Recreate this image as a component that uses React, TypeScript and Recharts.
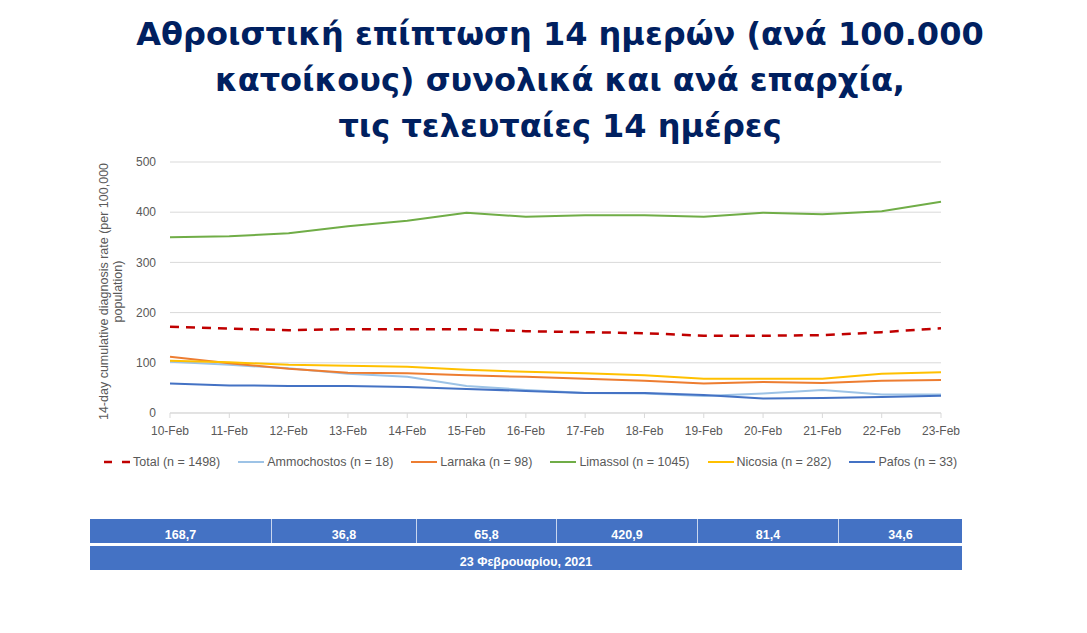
import { LineChart, Line, XAxis, YAxis, CartesianGrid } from 'recharts';

// Ημερομηνίες και τιμές (ανά 100.000 κατοίκους)
const days = ['10-Feb', '11-Feb', '12-Feb', '13-Feb', '14-Feb', '15-Feb', '16-Feb', '17-Feb', '18-Feb', '19-Feb', '20-Feb', '21-Feb', '22-Feb', '23-Feb'];
const total = [172, 168, 165, 167, 167, 167, 163, 161, 159, 154, 154, 155, 161, 168.7];
const ammochostos = [102, 96, 89, 78, 72, 54, 46, 40, 39, 34, 39, 46, 37, 36.8];
const larnaka = [112, 99, 88, 80, 79, 75, 72, 68, 64, 59, 62, 60, 64, 65.8];
const limassol = [350, 352, 358, 372, 383, 399, 391, 394, 394, 391, 399, 396, 402, 420.9];
const nicosia = [104, 101, 96, 94, 92, 86, 82, 79, 75, 68, 68, 68, 78, 81.4];
const pafos = [59, 55, 54, 54, 52, 48, 44, 40, 40, 36, 29, 30, 32, 34.6];
const yTicks = [0, 100, 200, 300, 400, 500];

const series = [
  { key: 'total', name: 'Total (n = 1498)', color: '#C00000', dash: true },
  { key: 'ammochostos', name: 'Ammochostos (n = 18)', color: '#9DC3E6', dash: false },
  { key: 'larnaka', name: 'Larnaka (n = 98)', color: '#ED7D31', dash: false },
  { key: 'limassol', name: 'Limassol (n = 1045)', color: '#70AD47', dash: false },
  { key: 'nicosia', name: 'Nicosia (n = 282)', color: '#FFC000', dash: false },
  { key: 'pafos', name: 'Pafos (n = 33)', color: '#4472C4', dash: false },
];

const tableValues = ['168,7', '36,8', '65,8', '420,9', '81,4', '34,6'];
const tableWidths = [182, 145, 140, 141, 141, 123];
const dateLabel = '23 Φεβρουαρίου, 2021';

const data = days.map((day, i) => ({
  day,
  total: total[i],
  ammochostos: ammochostos[i],
  larnaka: larnaka[i],
  limassol: limassol[i],
  nicosia: nicosia[i],
  pafos: pafos[i],
}));

const YLabel = (props: any) => {
  const { viewBox } = props;
  const cx = viewBox.x - 2;
  const cy = viewBox.y + viewBox.height / 2 + 4;
  return (
    <text x={cx} y={cy} transform={`rotate(-90 ${cx} ${cy})`} textAnchor="middle" fill="#595959" fontSize={12.5}>
      <tspan x={cx} dy={0}>14-day cumulative diagnosis rate (per 100,000</tspan>
      <tspan x={cx} dy={14}>population)</tspan>
    </text>
  );
};

const font = '"Liberation Sans", "DejaVu Sans", sans-serif';

export default function App() {
  return (
    <div style={{ position: 'absolute', left: 0, top: 0, width: 1087, height: 633, background: '#fff', fontFamily: font }}>
      <div
        style={{
          position: 'absolute',
          left: 0,
          top: 11,
          width: 1120,
          textAlign: 'center',
          color: '#002060',
          fontFamily: '"DejaVu Sans", sans-serif',
          fontWeight: 'bold',
          fontSize: 32,
          lineHeight: '46px',
        }}
      >
        Αθροιστική επίπτωση 14 ημερών (ανά 100.000
        <br />
        κατοίκους) συνολικά και ανά επαρχία,
        <br />
        τις τελευταίες 14 ημέρες
      </div>

      <div style={{ position: 'absolute', left: 0, top: 150 }}>
        <LineChart width={1000} height={300} data={data} margin={{ top: 12, right: 59, left: 110, bottom: 7 }}>
          <CartesianGrid vertical={false} stroke="#D9D9D9" />
          <XAxis
            dataKey="day"
            height={30}
            stroke="#D9D9D9"
            tickLine={{ stroke: '#D9D9D9' }}
            tickSize={5}
            tick={{ fill: '#595959', fontSize: 12, fontFamily: font, dy: 6 }}
            interval={0}
          />
          <YAxis
            width={60}
            domain={[0, 500]}
            ticks={yTicks}
            axisLine={false}
            tickLine={false}
            tick={{ fill: '#595959', fontSize: 12, fontFamily: font, dx: -6 }}
            label={<YLabel />}
          />
          {series.map((s) => (
            <Line
              key={s.key}
              dataKey={s.key}
              name={s.name}
              stroke={s.color}
              strokeWidth={s.dash ? 2.5 : 2}
              strokeDasharray={s.dash ? '9 7' : undefined}
              dot={false}
              isAnimationActive={false}
            />
          ))}
        </LineChart>
      </div>

      <div style={{ position: 'absolute', left: 103, top: 455, display: 'flex', fontSize: 12.5, color: '#595959' }}>
        {series.map((s) => (
          <div key={s.key} style={{ display: 'flex', alignItems: 'center', marginRight: 17 }}>
            <svg width={28} height={10}>
              <line x1={1} y1={5} x2={27} y2={5} stroke={s.color} strokeWidth={s.dash ? 2.5 : 2} strokeDasharray={s.dash ? '8 10' : undefined} />
            </svg>
            <span style={{ marginLeft: 2 }}>{s.name}</span>
          </div>
        ))}
      </div>

      <div style={{ position: 'absolute', left: 90, top: 519, width: 872 }}>
        <div style={{ display: 'flex', height: 24 }}>
          {tableValues.map((v, i) => (
            <div
              key={i}
              style={{
                width: tableWidths[i],
                background: '#4472C4',
                color: '#fff',
                fontWeight: 'bold',
                fontSize: 12.5,
                textAlign: 'center',
                lineHeight: '33px',
                overflow: 'hidden',
                boxSizing: 'border-box',
                borderRight: i < tableValues.length - 1 ? '1px solid #C9D6EE' : 'none',
              }}
            >
              {v}
            </div>
          ))}
        </div>
        <div
          style={{
            marginTop: 3,
            height: 24,
            background: '#4472C4',
            color: '#fff',
            fontWeight: 'bold',
            fontSize: 12.5,
            textAlign: 'center',
            lineHeight: '32px',
            overflow: 'hidden',
          }}
        >
          {dateLabel}
        </div>
      </div>
    </div>
  );
}
